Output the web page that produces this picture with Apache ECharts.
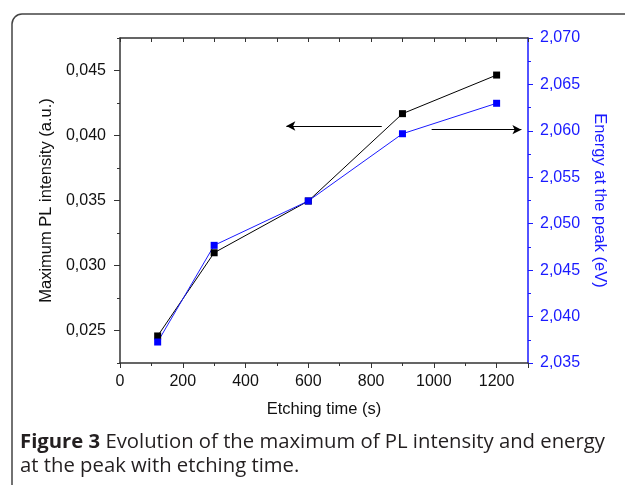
<!DOCTYPE html>
<html><head><meta charset="utf-8">
<script src="https://cdn.jsdelivr.net/npm/echarts@6/dist/echarts.min.js"></script>
<style>html,body{margin:0;padding:0;background:#fff;}#c{width:625px;height:485px;}</style>
</head><body><div id="c"></div>
<script>
const etchTime = [120, 300, 600, 900, 1200];
const plIntensity = [0.02458, 0.03098, 0.03496, 0.04168, 0.04465];
const peakEnergy = [2.03726, 2.04767, 2.05245, 2.05969, 2.06297];
const leftTicks = [0.025, 0.030, 0.035, 0.040, 0.045];
const leftMinorTicks = [0.0225, 0.0275, 0.0325, 0.0375, 0.0425, 0.0475];
// annotation arrows [xFrom, xTo, y]
const arrowLeft = [834, 530, 0.04073];
const arrowRight = [993, 1279, 2.06013];

const fmt = v => v.toFixed(3).replace('.', ',');
const font = "'Liberation Sans', Arial, sans-serif";
const chart = echarts.init(document.getElementById('c'));
const axisColor = '#333';
const blue = '#1a1aff';

chart.setOption({
  animation: false,
  grid: {left: 120, top: 38, right: 97, bottom: 122, containLabel: false},
  xAxis: [
    {type: 'value', position: 'bottom', min: 0, max: 1300, interval: 200,
     name: 'Etching time (s)', nameLocation: 'middle', nameGap: 38,
     nameTextStyle: {fontFamily: font, fontSize: 16.5, color: '#111'},
     axisLine: {show: true, lineStyle: {color: axisColor, width: 1.5}},
     axisTick: {show: true, inside: false, length: 5, lineStyle: {color: axisColor}},
     minorTick: {show: true, splitNumber: 2, length: 3, lineStyle: {color: axisColor}},
     axisLabel: {fontFamily: font, fontSize: 16, color: '#111', margin: 11, formatter: v => String(v)},
     splitLine: {show: false}},
    {type: 'value', position: 'top', min: 0, max: 1300, interval: 100,
     axisLine: {show: true, onZero: false, lineStyle: {color: axisColor, width: 1.5}},
     axisTick: {show: true, inside: true, length: 4, lineStyle: {color: axisColor}},
     axisLabel: {show: false}, splitLine: {show: false}}
  ],
  yAxis: [
    {type: 'value', position: 'left', min: 0.0225, max: 0.0475,
     name: 'Maximum PL intensity (a.u.)', nameLocation: 'middle', nameGap: 65, nameRotate: 90,
     nameTextStyle: {fontFamily: font, fontSize: 16.5, color: '#111'},
     axisLine: {show: true, onZero: false, lineStyle: {color: axisColor, width: 1.5}},
     axisTick: {show: true, inside: false, length: 6, customValues: leftTicks, lineStyle: {color: axisColor}},
     axisLabel: {fontFamily: font, fontSize: 16, color: '#111', margin: 14, customValues: leftTicks, formatter: fmt},
     splitLine: {show: false}},
    {type: 'value', position: 'right', min: 2.035, max: 2.070, interval: 0.005,
     name: 'Energy at the peak (eV)', nameLocation: 'middle', nameGap: 62, nameRotate: -90,
     nameTextStyle: {fontFamily: font, fontSize: 16.5, color: blue},
     axisLine: {show: true, onZero: false, lineStyle: {color: blue, width: 1.5}},
     axisTick: {show: true, inside: false, length: 5, lineStyle: {color: blue}},
     minorTick: {show: true, splitNumber: 2, length: 3, lineStyle: {color: blue}},
     axisLabel: {fontFamily: font, fontSize: 16, color: blue, margin: 12, formatter: fmt},
     splitLine: {show: false}},
    {type: 'value', position: 'left', min: 0.0225, max: 0.0475,
     axisLine: {show: false},
     axisTick: {show: true, inside: false, length: 3, customValues: leftMinorTicks, lineStyle: {color: axisColor}},
     axisLabel: {show: false}, splitLine: {show: false}}
  ],
  series: [
    {type: 'line', xAxisIndex: 0, yAxisIndex: 0,
     data: etchTime.map((t, i) => [t, plIntensity[i]]),
     symbol: 'rect', symbolSize: 7, showSymbol: true,
     lineStyle: {color: '#000', width: 1}, itemStyle: {color: '#000'},
     markLine: {silent: true, symbol: ['none', 'arrow'], symbolSize: [7, 9], label: {show: false},
       lineStyle: {color: '#000', width: 1, type: 'solid'},
       data: [[{coord: [arrowLeft[0], arrowLeft[2]]}, {coord: [arrowLeft[1], arrowLeft[2]]}]]}},
    {type: 'line', xAxisIndex: 0, yAxisIndex: 1,
     data: etchTime.map((t, i) => [t, peakEnergy[i]]),
     symbol: 'rect', symbolSize: 7, showSymbol: true,
     lineStyle: {color: blue, width: 1}, itemStyle: {color: '#0000ff'},
     markLine: {silent: true, symbol: ['none', 'arrow'], symbolSize: [7, 9], label: {show: false},
       lineStyle: {color: '#000', width: 1, type: 'solid'},
       data: [[{coord: [arrowRight[0], arrowRight[2]]}, {coord: [arrowRight[1], arrowRight[2]]}]]}}
  ],
  graphic: [
    {type: 'rect', left: 9.5, top: 11.5, shape: {x: 0, y: 0, width: 660, height: 490, r: 10},
     style: {fill: 'none', stroke: '#444', lineWidth: 1.5}, z: -1},
    {type: 'text', left: 20, top: 430,
     style: {text: '{b|Figure 3} Evolution of the maximum of PL intensity and energy\nat the peak with etching time.',
       rich: {b: {fontWeight: 'bold', fontFamily: 'Open Sans', fontSize: 20.3, fill: '#231f20', lineHeight: 24}},
       fontFamily: 'Open Sans', fontSize: 20.3, fill: '#231f20', lineHeight: 24}}
  ]
});
</script></body></html>
